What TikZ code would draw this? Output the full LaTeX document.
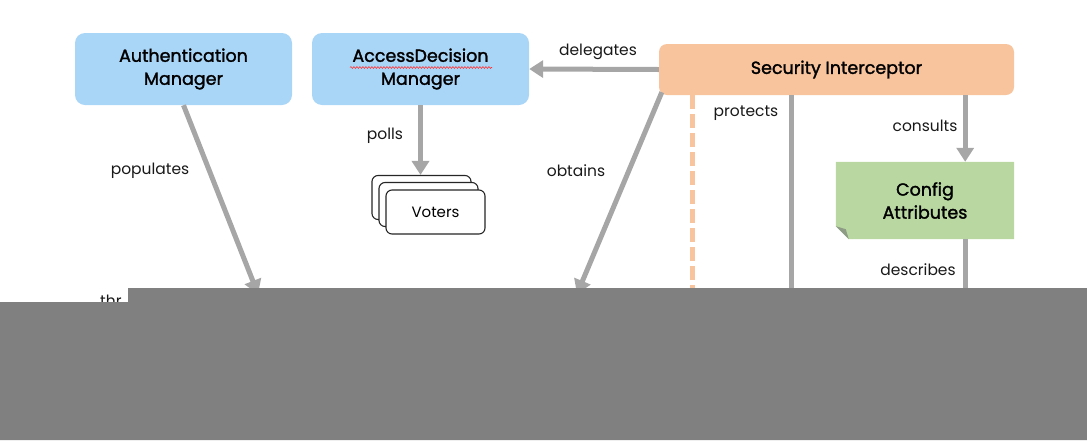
\documentclass[tikz,border=0pt]{standalone}
\usepackage{fontspec}
\setmainfont{Poppins}
\newfontfamily\titlefont{Poppins}[FakeBold=1.6]
\usetikzlibrary{arrows.meta,calc,positioning,backgrounds,decorations.pathmorphing}

\definecolor{mgrblue}{HTML}{A9D5F7}
\definecolor{intorange}{HTML}{F7C49D}
\definecolor{cfggreen}{HTML}{B9D8A1}
\definecolor{foldgray}{HTML}{8E9C86}
\definecolor{linkgray}{HTML}{A6A6A6}
\definecolor{maskgray}{HTML}{808080}

\tikzset{
  mgr/.style={rounded corners=10pt,fill=mgrblue,minimum width=217,minimum height=72,
    align=center,font=\titlefont\fontsize{17.5}{23}\selectfont},
  intcpt/.style={rounded corners=8pt,fill=intorange,minimum width=355,minimum height=51,
    font=\titlefont\fontsize{17.5}{20}\selectfont},
  voter/.style={draw=black!85,line width=1.1pt,fill=white,rounded corners=6pt,
    minimum width=99,minimum height=44,font=\fontsize{15}{18}\selectfont},
  cfg/.style={minimum width=178,minimum height=77,align=center,
    font=\titlefont\fontsize{17.5}{23}\selectfont},
  lbl/.style={font=\fontsize{15.5}{18}\selectfont,text=black!90},
  link/.style={linkgray,line width=5pt},
  linkarr/.style={link,-{Triangle[length=14pt,width=17pt]}},
}

\begin{document}
\begin{tikzpicture}[x=1pt,y=-1pt]
\useasboundingbox (0,0) rectangle (1087,440);

% boxes
\node[mgr] (authmgr) at (183.5,69) {Authentication\\Manager};
\node[mgr] (accmgr) at (420.5,69) {AccessDecision\\Manager};
\node[intcpt] (secint) at (836.5,69.5) {Security Interceptor};

\node[voter] (voterC) at (421.5,197.5) {};
\node[voter] (voterB) at (428.5,204.5) {};
\node[voter] (voters) at (435.5,212) {Voters};

\node[cfg] (cfgattr) at (925,200.5) {Config\\Attributes};
\begin{scope}[on background layer]
  \fill[cfggreen] (cfgattr.north west) -- (cfgattr.north east) -- (cfgattr.south east)
    -- ($(cfgattr.south west)+(13,0)$) -- ($(cfgattr.south west)+(0,-13)$) -- cycle;
  \fill[foldgray] ($(cfgattr.south west)+(0,-13)$) -- ($(cfgattr.south west)+(13,0)$)
    -- ($(cfgattr.south west)+(10,-10)$) -- cycle;
\end{scope}

% spell-check squiggle
\draw[red!80,line width=0.6pt,decorate,decoration={snake,amplitude=0.9pt,segment length=3pt}]
  (350,67.5) -- (492,67.5);

% ends below the mask
\coordinate (popEnd) at (258,294);
\coordinate (obtEnd) at (577,294);
\coordinate (protDash) at (692,300);
\coordinate (protEnd) at (791,300);
\coordinate (descEnd) at (965,300);

% connectors
\draw[linkarr] (secint.west) -- (accmgr.east);
\node[lbl] (delegLbl) at (598,52) {delegates};

\draw[linkarr] (accmgr.south) -- (voterC.north -| accmgr.south);
\node[lbl] (pollsLbl) at (385,136) {polls};

\draw[linkarr] (authmgr.south) -- (popEnd);
\node[lbl] (popLbl) at (150,171) {populates};

\draw[linkarr] ($(secint.south west)+(3,-3)$) -- (obtEnd);
\node[lbl] (obtLbl) at (576,171) {obtains};

\draw[intorange,line width=5pt,dash pattern=on 14pt off 5pt] (secint.south -| protDash) -- (protDash);
\draw[link] (secint.south -| protEnd) -- (protEnd);
\node[lbl] (protLbl) at (746,113) {protects};

\draw[linkarr] (secint.south -| cfgattr.east) ++(-49,0) coordinate (consStart) -- (consStart |- cfgattr.north);
\node[lbl] (consLbl) at (925,126) {consults};

\draw[link] (cfgattr.south -| descEnd) -- (descEnd);
\node[lbl] (descLbl) at (918,270) {describes};

% cut-off text and mask
\node[lbl,inner sep=0pt,anchor=base west] (thrLbl) at (100,306) {thr};
\fill[maskgray] (0,302) -- (128,302) -- (128,288) -- (1087,288) -- (1087,440) -- (0,440) -- cycle;
\end{tikzpicture}
\end{document}
